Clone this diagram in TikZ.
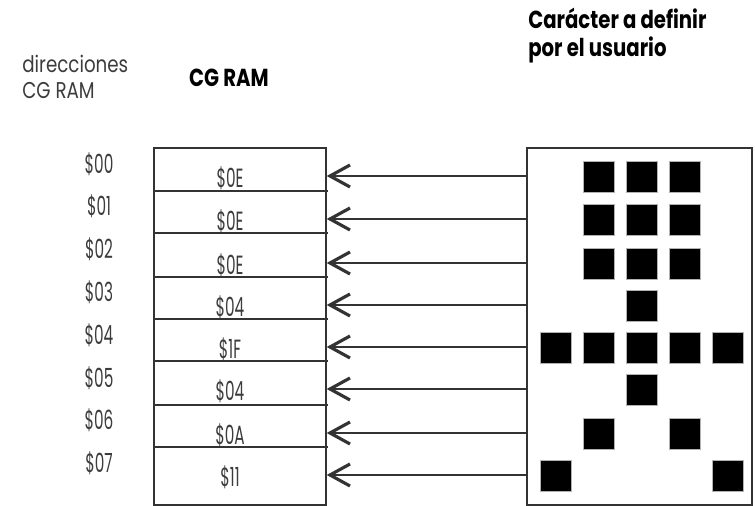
\documentclass[tikz,border=0pt]{standalone}
\usepackage{fontspec}
\setmainfont{Poppins}[FakeStretch=0.8]
\newfontfamily\estrecha{Poppins}[FakeStretch=0.58]
\usepackage{tikz}
\usetikzlibrary{arrows.meta}
\usepackage{xcolor}
\definecolor{LineaGris}{HTML}{333333}
\definecolor{TextoGris}{HTML}{3C3C3C}

\begin{document}
\begin{tikzpicture}[x=0.02cm,y=-0.02cm]
    \useasboundingbox (0,0) rectangle (755,506);
    % headings
    \node[anchor=north west,align=left,inner sep=0,text=TextoGris,
          font=\fontsize{13}{14.5}\selectfont] (dir) at (22,55) {direcciones\\CG RAM};
    \node[inner sep=0,font=\bfseries\fontsize{14}{16}\selectfont] (cgram) at (229,78) {CG RAM};
    \node[anchor=north west,align=left,inner sep=0,
          font=\bfseries\fontsize{14}{16}\selectfont] (titulo) at (528,8) {Carácter a definir\\por el usuario};
    % memory and pattern boxes
    \node[draw=LineaGris,line width=1pt,anchor=north west,inner sep=0,
          minimum width=3.44cm,minimum height=7.14cm] (ram) at (153,147) {};
    \node[draw=LineaGris,line width=1pt,anchor=north west,inner sep=0,
          minimum width=4.5cm,minimum height=7.14cm] (patron) at (526,147) {};
    \foreach \y in {191,233,277,319,361,405,447}
        \draw[LineaGris,line width=1pt] (ram.west |- 0,\y) -- (328,\y);
    % addresses
    \foreach \y [count=\i from 0] in {164,206,249,292,335,378,420,463}
        \node[text=TextoGris,font=\estrecha\fontsize{15}{17}\selectfont] (d\i) at (99,\y) {\$0\i};
    % rows: arrow, stored value, pixels
    \foreach \y/\val/\cols [count=\i from 0] in
        {176/0E/{1,2,3},219/0E/{1,2,3},263/0E/{1,2,3},305/04/{2},
         347/1F/{0,1,2,3,4},389/04/{2},433/0A/{1,3},475/11/{0,4}}{
        \node[text=TextoGris,font=\estrecha\fontsize{15}{17}\selectfont] (v\i) at (230,\y+2) {\$\val};
        \coordinate (f\i) at (patron.west |- 0,\y);
        \draw[LineaGris,line width=1pt,
              -{Straight Barb[length=0.40cm,width=0.44cm,line width=1.8pt]}] (f\i) -- (ram.east |- f\i);
        \foreach \c in \cols
            \filldraw[fill=black,draw=gray!60,line width=0.4pt] (540.5+43*\c,\y-14.5) rectangle ++(31,31);
    }
\end{tikzpicture}
\end{document}
